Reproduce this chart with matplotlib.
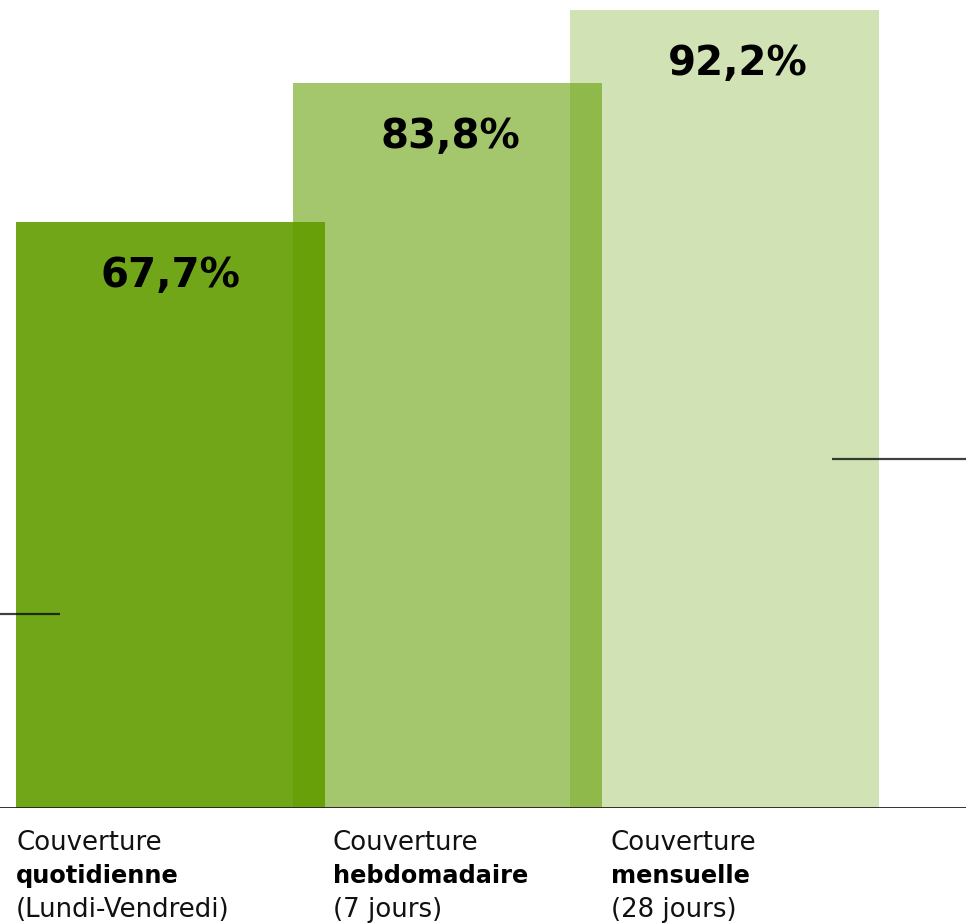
import matplotlib
matplotlib.use("Agg")
import matplotlib.pyplot as plt

# Data
values = [67.7, 83.8, 92.2]
value_labels = ["67,7%", "83,8%", "92,2%"]
cat_line1 = ["Couverture", "Couverture", "Couverture"]
cat_line2 = ["quotidienne", "hebdomadaire", "mensuelle"]
cat_line3 = ["(Lundi-Vendredi)", "(7 jours)", "(28 jours)"]
ref_lines = [22.4, 40.3]

W, H = 966, 923
fig = plt.figure(figsize=(W / 100, H / 100), dpi=100)
base_px = 808
ax = fig.add_axes([0, (H - base_px) / H, 1, base_px / H])

unit = 277.0
c0 = 170.5
xmin = -c0 / unit
xmax = (W - c0) / unit
ax.set_xlim(xmin, xmax)
ax.set_ylim(0, base_px / 8.65)

base = (98 / 255, 156 / 255, 0)
alphas = [0.9, 0.576, 0.29]
width = 309 / unit
xs = list(range(len(values)))
for i, v in enumerate(values):
    ax.bar(xs[i], v, width=width, color=base, alpha=alphas[i], linewidth=0, zorder=1 + i)

label_dx_px = [-0.5, 3, 13.5]
for i, v in enumerate(values):
    ax.text(xs[i] + label_dx_px[i] / unit, v - 6.2, value_labels[i], ha="center", va="center",
            fontsize=29, fontweight="bold", color="black", zorder=10)

# reference segments
ax.plot([xmin, (60 - c0) / unit], [ref_lines[0]] * 2, color="black", alpha=0.75, lw=1.6,
        solid_capstyle="butt", zorder=8)
ax.plot([(832 - c0) / unit, xmax], [ref_lines[1]] * 2, color="black", alpha=0.75, lw=1.6,
        solid_capstyle="butt", zorder=8)

ax.axhline(0, color="#222222", lw=1.3, zorder=9)
ax.axis("off")

# category labels
label_x_px = [16, 333, 611]
line_y_px = [843, 876, 910]
for i in range(3):
    xf = label_x_px[i] / W
    fig.text(xf, 1 - line_y_px[0] / H, cat_line1[i], ha="left", va="center", fontsize=18.7, color="#111111")
    fig.text(xf, 1 - line_y_px[1] / H, cat_line2[i], ha="left", va="center", fontsize=17.3,
             fontweight="bold", color="black")
    fig.text(xf, 1 - line_y_px[2] / H, cat_line3[i], ha="left", va="center", fontsize=18.7, color="#111111")

fig.savefig("out.png", dpi=100)
